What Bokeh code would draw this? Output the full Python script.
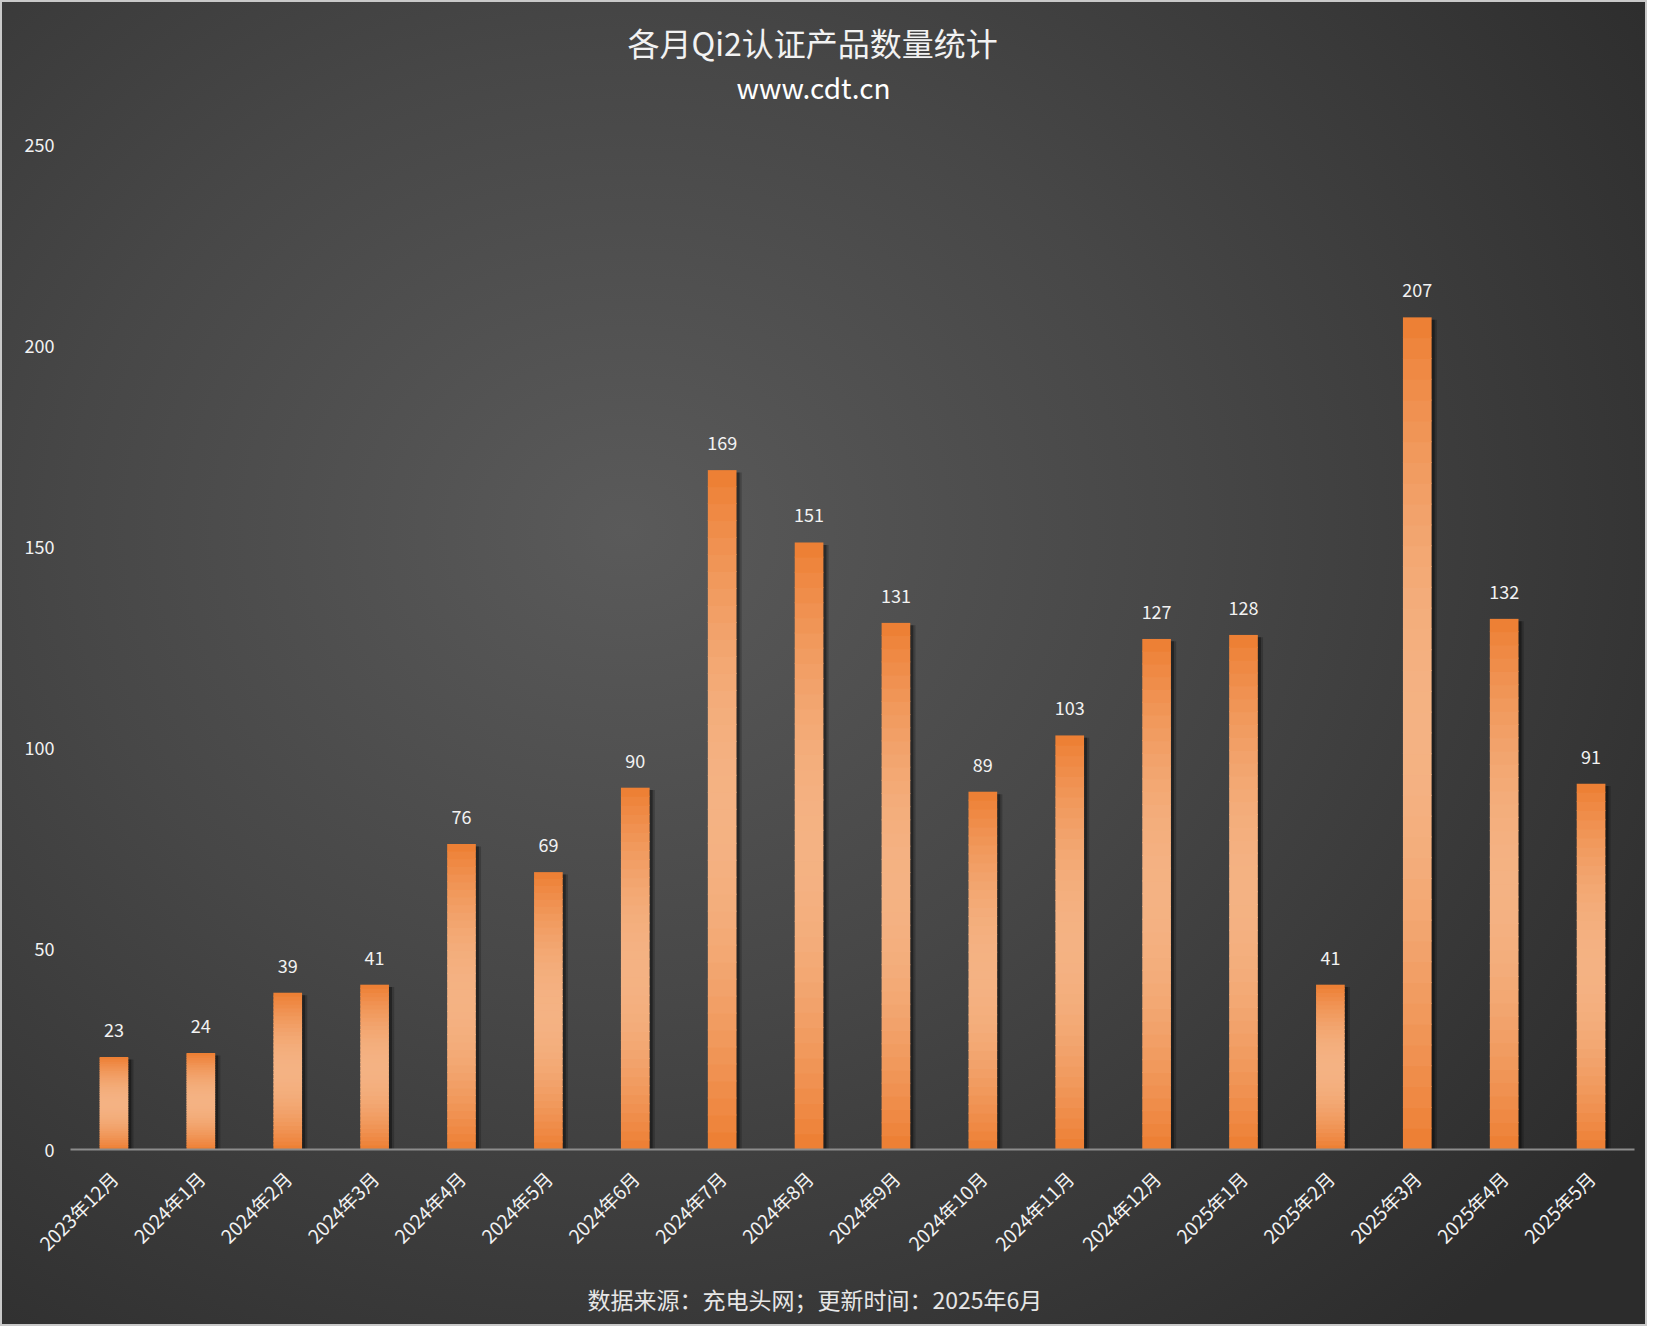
import math
from bokeh.plotting import figure
from bokeh.models import Range1d, FactorRange, Title, FixedTicker, ColumnDataSource
from bokeh.transform import dodge
from bokeh.core.properties import value
from bokeh.embed import file_html
from bokeh.resources import INLINE

# ---- data ----
months = ["2023年12月", "2024年1月", "2024年2月", "2024年3月", "2024年4月", "2024年5月",
          "2024年6月", "2024年7月", "2024年8月", "2024年9月", "2024年10月", "2024年11月",
          "2024年12月", "2025年1月", "2025年2月", "2025年3月", "2025年4月", "2025年5月"]
counts = [23, 24, 39, 41, 76, 69, 90, 169, 151, 131, 89, 103, 127, 128, 41, 207, 132, 91]
y_ticks = [0, 50, 100, 150, 200, 250]

title_text = "各月Qi2认证产品数量统计"
subtitle_text = "www.cdt.cn"
footer_text = "数据来源：充电头网；更新时间：2025年6月"

FONT = "Noto Sans CJK SC"
W, H = 1647, 1326
BL, BR, BT, BB = 70, 13, 144, 177

p = figure(width=W, height=H, x_range=FactorRange(*months, range_padding=0),
           y_range=Range1d(0, 250), output_backend="svg", toolbar_location=None,
           min_border_left=BL, min_border_right=BR, min_border_top=BT, min_border_bottom=BB,
           border_fill_color=None, background_fill_color=None, outline_line_color=None,
           styles={"background": "radial-gradient(ellipse 75% 80% at 38% 40%, #5a5a5a 0%, #474747 45%, #2c2c2c 100%)",
                   "outline": "2px solid #c9c9c9", "outline-offset": "-2px"})
p.grid.visible = False

# shadows
bar_w = 0.33
for off, alpha in [(0.035, 0.35), (0.06, 0.2)]:
    p.vbar(x=dodge("m", off, range=p.x_range), top="top", bottom=0, width=bar_w,
           source=ColumnDataSource(dict(m=months, top=[max(c - 0.6, 0) for c in counts])),
           fill_color="black", fill_alpha=alpha, line_color=None)

# gradient bars (vertical gradient: orange - light - orange)
orange = (237, 125, 49)
light = (244, 178, 131)
N = 40
xs, bots, tops, cols = [], [], [], []
for m, c in zip(months, counts):
    for k in range(N):
        t = (k + 0.5) / N
        w = math.sin(math.pi * t) ** 0.9
        col = tuple(int(round(orange[i] + (light[i] - orange[i]) * w)) for i in range(3))
        xs.append(m)
        bots.append(c * k / N)
        tops.append(min(c, c * (k + 1) / N + 0.25))
        cols.append("#%02x%02x%02x" % col)
p.vbar(x="m", bottom="b", top="t", width=bar_w, fill_color="c", line_color=None,
       source=ColumnDataSource(dict(m=xs, b=bots, t=tops, c=cols)))

# value labels
p.text(x=months, y=counts, text=[str(c) for c in counts], text_align="center",
       text_baseline="middle", y_offset=-27, text_color="#f2f2f2",
       text_font=value(FONT), text_font_size="18px")

# axes
p.xaxis.axis_line_color = "#8c8c8c"
p.xaxis.axis_line_width = 2
p.xaxis.major_tick_line_color = None
p.xaxis.minor_tick_line_color = None
p.xaxis.major_label_orientation = math.pi / 4
p.xaxis.major_label_standoff = 19
p.xaxis.major_label_text_color = "#f2f2f2"
p.xaxis.major_label_text_font = FONT
p.xaxis.major_label_text_font_size = "19px"

p.yaxis.axis_line_color = None
p.yaxis.major_tick_line_color = None
p.yaxis.minor_tick_line_color = None
p.yaxis.ticker = FixedTicker(ticks=y_ticks)
p.yaxis.major_label_standoff = 10
p.yaxis.major_label_text_color = "#f2f2f2"
p.yaxis.major_label_text_font = FONT
p.yaxis.major_label_text_font_size = "18px"

# titles: spacer nearest the frame, then subtitle, main title outermost
p.title.text = title_text
p.title.align = "left"
p.title.offset = 557
p.title.text_color = "#f2f2f2"
p.title.text_font = FONT
p.title.text_font_size = "32px"
p.title.text_font_style = "normal"
p.title.standoff = 0
p.add_layout(Title(text=" ", text_font_size="10px", standoff=25), "above")
p.add_layout(Title(text=subtitle_text, align="left", offset=666, text_color="#ffffff",
                   text_font=FONT, text_font_size="28px", text_font_style="normal",
                   standoff=0), "above")
p.add_layout(Title(text=footer_text, align="left", offset=517, text_color="#e6e6e6",
                   text_font=FONT, text_font_size="23px", text_font_style="normal",
                   standoff=22), "below")

open("out.html", "w").write(file_html(p, INLINE))
